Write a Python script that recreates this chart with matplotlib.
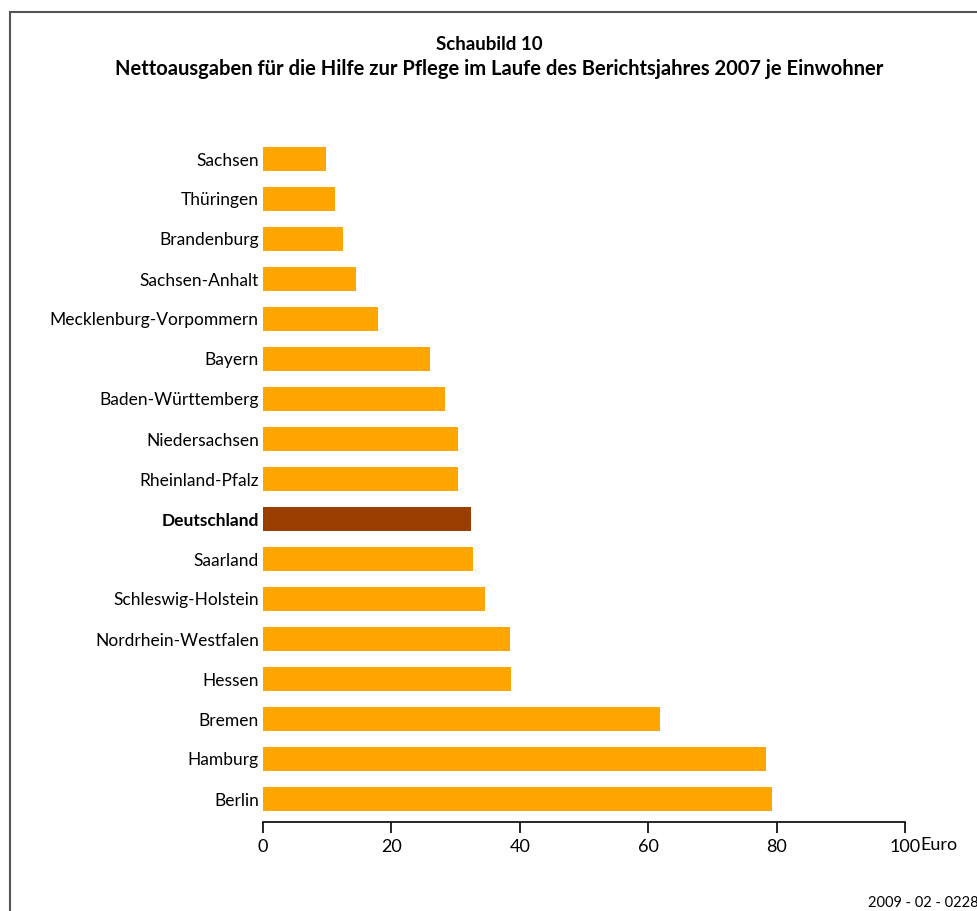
import numpy as np
import matplotlib.pyplot as plt
from matplotlib.patches import Rectangle

# data, top to bottom as in the chart
laender = ['Sachsen', 'Thüringen', 'Brandenburg', 'Sachsen-Anhalt',
           'Mecklenburg-Vorpommern', 'Bayern', 'Baden-Württemberg',
           'Niedersachsen', 'Rheinland-Pfalz', 'Deutschland', 'Saarland',
           'Schleswig-Holstein', 'Nordrhein-Westfalen', 'Hessen', 'Bremen',
           'Hamburg', 'Berlin']
euro = [9.8, 11.2, 12.5, 14.5, 17.9, 26.0, 28.3, 30.4, 30.4, 32.4, 32.7,
        34.6, 38.5, 38.6, 61.8, 78.3, 79.3]
xticks = [0, 20, 40, 60, 80, 100]

plt.rcParams['font.family'] = ['Lato', 'DejaVu Sans']

W, H = 978, 911
fig = plt.figure(figsize=(W / 100, H / 100), dpi=100)
ax = fig.add_axes([263 / W, 1 - 822 / H, (905 - 263) / W, (822 - 139) / H])

n = len(laender)
ypos = np.arange(n)[::-1]
colors = ['#993D00' if l == 'Deutschland' else '#FFA500' for l in laender]
ax.barh(ypos, euro, height=0.6, color=colors)

ax.set_xlim(0, 100)
ax.set_ylim(-0.575, n - 0.5)
ax.set_yticks(ypos)
ax.set_yticklabels(laender, fontsize=12.5)
for lbl in ax.get_yticklabels():
    if lbl.get_text() == 'Deutschland':
        lbl.set_fontweight('bold')
ax.set_xticks(xticks)
ax.set_xticklabels([str(t) for t in xticks], fontsize=13)
ax.tick_params(axis='y', length=0, pad=3)
ax.tick_params(axis='x', direction='out', length=8, width=1.2, pad=4)
for s in ['top', 'right', 'left']:
    ax.spines[s].set_visible(False)
ax.spines['bottom'].set_linewidth(1.2)

fig.text(920 / W, 1 - 845 / H, 'Euro', fontsize=13, va='center', ha='left')

# titles
fig.text(0.5, 1 - 44 / H, 'Schaubild 10', fontsize=13.5, fontweight='bold',
         ha='center', va='center')
fig.text(0.51, 1 - 69 / H,
         'Nettoausgaben für die Hilfe zur Pflege im Laufe des Berichtsjahres 2007 je Einwohner',
         fontsize=14.5, fontweight='bold', ha='center', va='center')

fig.text(868 / W, 1 - 903 / H, '2009 - 02 - 0228', fontsize=10.5,
         ha='left', va='center')

# frame around the chart
fig.patches.append(Rectangle((10 / W, -0.1), 1.2, 1 - 12 / H + 0.1,
                             transform=fig.transFigure, fill=False,
                             edgecolor='#555555', linewidth=1.5))

fig.savefig('out.png', dpi=100)
